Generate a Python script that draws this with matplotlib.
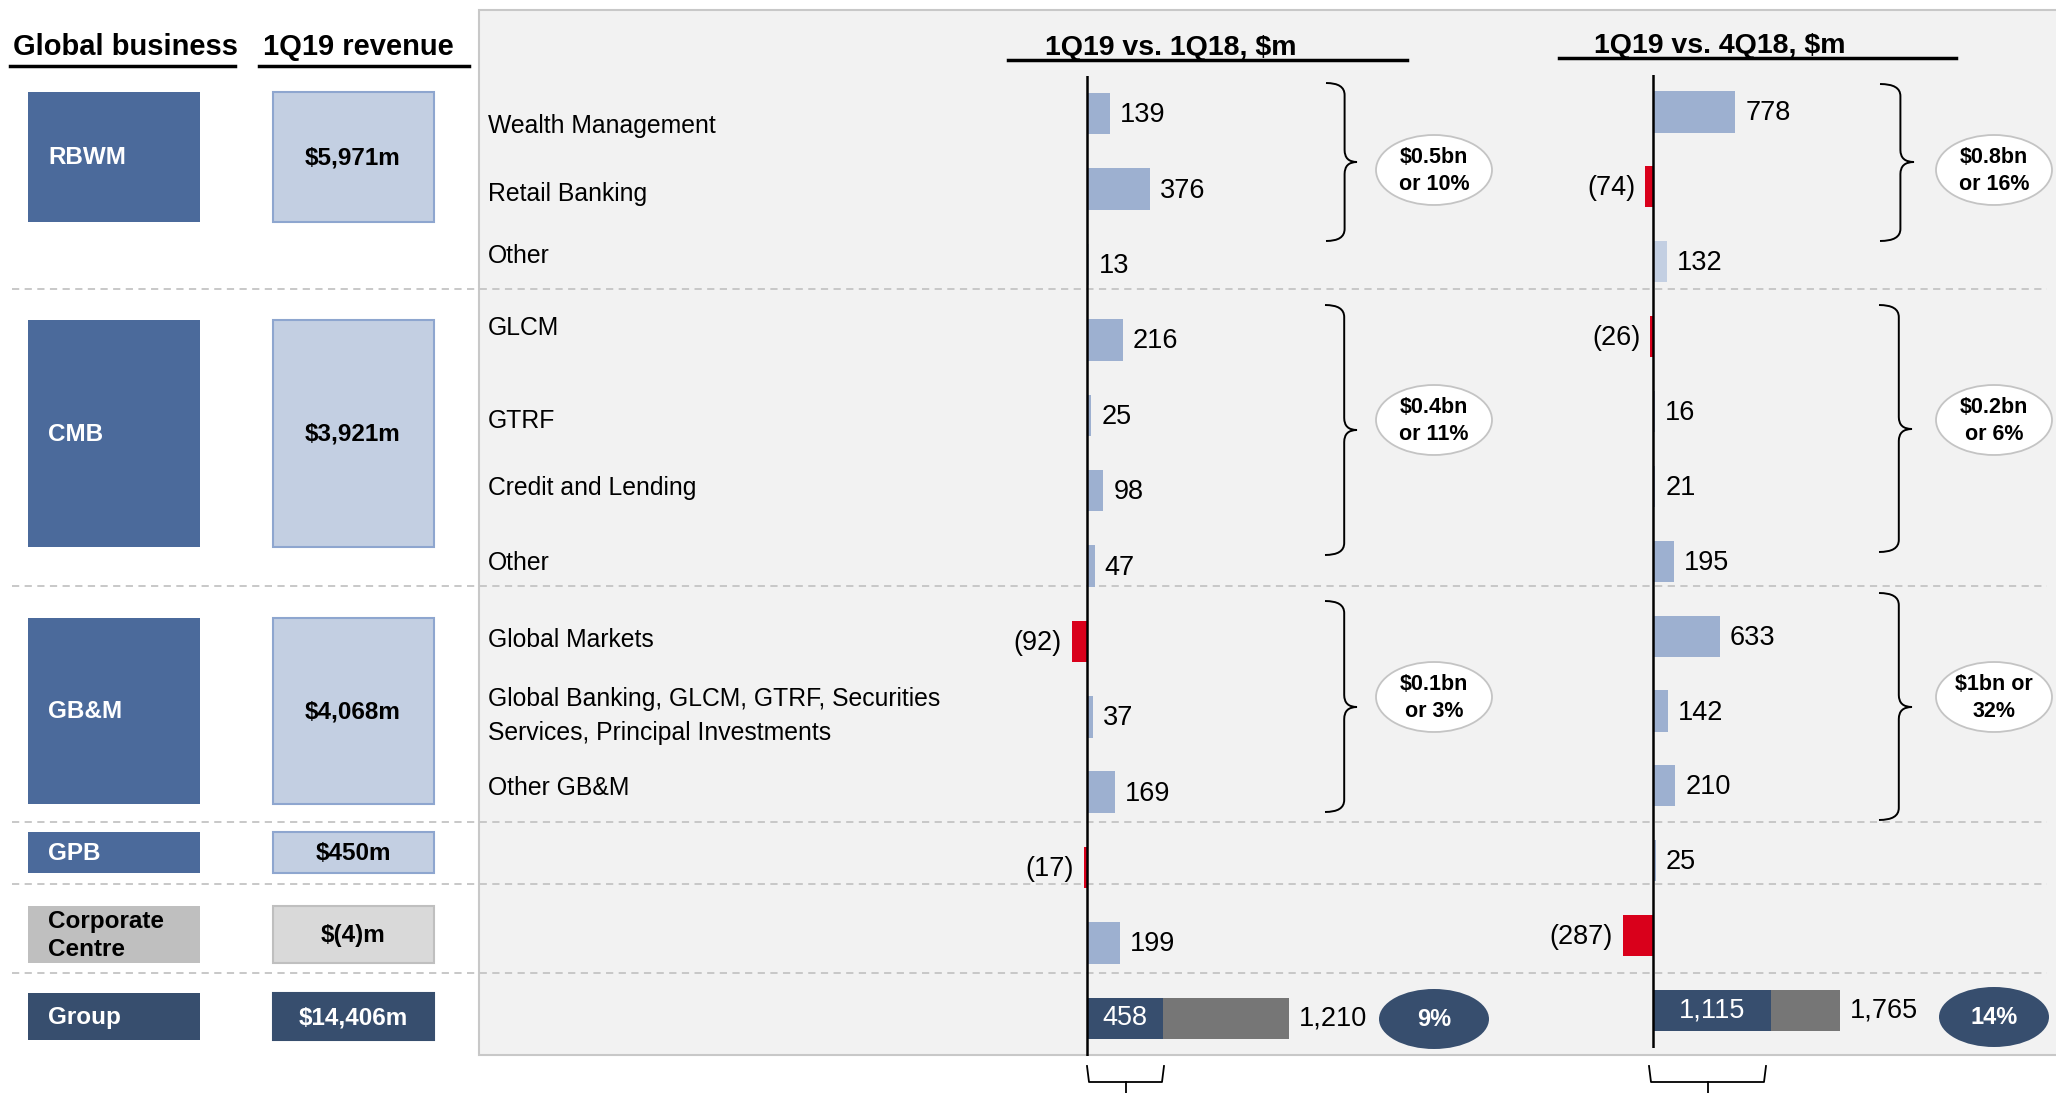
import matplotlib
matplotlib.use("Agg")
import matplotlib.pyplot as plt
from matplotlib.patches import Rectangle, Ellipse, PathPatch
from matplotlib.path import Path

plt.rcParams['font.family'] = ['Liberation Sans', 'DejaVu Sans']

# --- data ---
businesses = ["RBWM", "CMB", "GB&M", "GPB", "Corporate\nCentre", "Group"]
revenue = ["$5,971m", "$3,921m", "$4,068m", "$450m", "$(4)m", "$14,406m"]

row_labels = ["Wealth Management", "Retail Banking", "Other",
              "GLCM", "GTRF", "Credit and Lending", "Other",
              "Global Markets",
              "Global Banking, GLCM, GTRF, Securities\nServices, Principal Investments",
              "Other GB&M"]

vs_1q18 = [139, 376, 13, 216, 25, 98, 47, -92, 37, 169, -17, 199]
vs_4q18 = [778, -74, 132, -26, 16, 21, 195, 633, 142, 210, 25, -287]
group_1q18 = [458, 1210]   # excl. (dark) / total
group_4q18 = [1115, 1765]

group_notes_1q18 = ["$0.5bn\nor 10%", "$0.4bn\nor 11%", "$0.1bn\nor 3%"]
group_notes_4q18 = ["$0.8bn\nor 16%", "$0.2bn\nor 6%", "$1bn or\n32%"]
total_pct = ["9%", "14%"]

# --- styles ---
BLUE = '#4B6A9B'
LIGHT = '#C3CFE2'
BAR = '#9DB0D0'
RED = '#D9001B'
NAVY = '#374E6E'
GREY = '#767676'
bar_colors_pos = [BAR, BAR, LIGHT, BAR, BAR, BAR, BAR, BAR, BAR, BAR, BAR, BAR]

W, H = 2056, 1093
fig = plt.figure(figsize=(W / 100, H / 100), dpi=100)
lay = fig.add_axes([0, 0, 1, 1])
lay.set_xlim(0, W)
lay.set_ylim(H, 0)
lay.axis('off')

# background panel
lay.add_patch(Rectangle((479, 10), 1600, 1045, fc='#F2F2F2', ec='#C8C8C8', lw=1.5))

# headers
lay.text(13, 55, "Global business", fontsize=21, fontweight='bold', va='baseline')
lay.plot([10, 235], [66, 66], color='black', lw=2.5)
lay.text(263, 55, "1Q19 revenue", fontsize=21, fontweight='bold', va='baseline')
lay.plot([259, 469], [66, 66], color='black', lw=2.5)
lay.text(1171, 55, "1Q19 vs. 1Q18, $m", fontsize=20.5, fontweight='bold', va='baseline', ha='center')
lay.plot([1008, 1407], [60, 60], color='black', lw=2.5)
lay.text(1720, 53, "1Q19 vs. 4Q18, $m", fontsize=20.5, fontweight='bold', va='baseline', ha='center')
lay.plot([1559, 1956], [58, 58], color='black', lw=2.5)

# separators
for y in [289, 586, 822, 884, 973]:
    lay.plot([12, 2047], [y, y], color='#C4C4C4', lw=1.3, ls=(0, (4, 3)))

# left boxes
box_y = [(92, 222), (320, 547), (618, 804), (832, 873), (906, 963), (993, 1040)]
box_fc = [BLUE, BLUE, BLUE, BLUE, '#BFBFBF', NAVY]
rev_fc = [LIGHT, LIGHT, LIGHT, LIGHT, '#D9D9D9', NAVY]
rev_ec = ['#8EA6CF', '#8EA6CF', '#8EA6CF', '#8EA6CF', '#BFBFBF', NAVY]
for i, (name, rev) in enumerate(zip(businesses, revenue)):
    y0, y1 = box_y[i]
    lay.add_patch(Rectangle((28, y0), 172, y1 - y0, fc=box_fc[i], ec='none'))
    lay.add_patch(Rectangle((273, y0), 161, y1 - y0, fc=rev_fc[i], ec=rev_ec[i], lw=1.5))
    tc = 'black' if i == 4 else 'white'
    lay.text(48, (y0 + y1) / 2 + 1, name, color=tc, fontsize=17.5, fontweight='bold',
             va='center', ha='left', linespacing=1.25)
    rc = 'white' if i == 5 else 'black'
    lay.text(353, (y0 + y1) / 2 + 1, rev, color=rc, fontsize=17.5, fontweight='bold',
             va='center', ha='center')

# row labels
label_y = [126, 194, 256, 328, 421, 488, 563, 640, 716, 788]
for lab, y in zip(row_labels, label_y):
    lay.text(488, y, lab, fontsize=17.8, va='center', ha='left', linespacing=1.5)


def make_axes(x0, x1, y0, y1, zero, scale):
    ax = fig.add_axes([x0 / W, 1 - y1 / H, (x1 - x0) / W, (y1 - y0) / H])
    ax.set_xlim((x0 - zero) / scale, (x1 - zero) / scale)
    ax.set_ylim(12.5, -0.5)
    ax.patch.set_alpha(0)
    ax.axis('off')
    ax.axvline(0, color='black', lw=1.8, zorder=5)
    return ax


def draw_chart(ax, values, group, scale):
    pad = 10 / scale
    rows = list(range(len(values)))
    colors = [bar_colors_pos[i] if v >= 0 else RED for i, v in enumerate(values)]
    ax.barh(rows, values, height=0.55, color=colors)
    for i, v in enumerate(values):
        y = i + 0.02
        if v >= 0:
            ax.text(v + pad, y, f"{v:,}", fontsize=19.5, va='center', ha='left')
        else:
            ax.text(v - pad, y, f"({-v:,})", fontsize=19.5, va='center', ha='right')
    g = len(values)
    ax.barh(g, group[0], height=0.55, color=NAVY)
    ax.barh(g, group[1] - group[0], left=group[0], height=0.55, color=GREY)
    ax.text(group[0] / 2, g, f"{group[0]:,}", color='white', fontsize=19.5, va='center', ha='center')
    ax.text(group[1] + pad, g, f"{group[1]:,}", fontsize=19.5, va='center', ha='left')


ax1 = make_axes(1000, 1370, 76, 1056, 1087, 0.167)
draw_chart(ax1, vs_1q18, group_1q18, 0.167)
ax2 = make_axes(1560, 1930, 74.5, 1048, 1653, 0.106)
draw_chart(ax2, vs_4q18, group_4q18, 0.106)


def brace(x0, x1, ytop, ybot, ymid, r=12):
    xm = x0 + (x1 - x0) * 0.6
    verts = [(x0, ytop), (xm, ytop), (xm, ytop + r),
             (xm, ymid - r), (xm, ymid), (x1, ymid),
             (xm, ymid), (xm, ymid + r),
             (xm, ybot - r), (xm, ybot), (x0, ybot)]
    codes = [Path.MOVETO, Path.CURVE3, Path.CURVE3,
             Path.LINETO, Path.CURVE3, Path.CURVE3,
             Path.CURVE3, Path.CURVE3,
             Path.LINETO, Path.CURVE3, Path.CURVE3]
    lay.add_patch(PathPatch(Path(verts, codes), fc='none', ec='black', lw=1.4))


brace(1326, 1357, 83, 241, 162)
brace(1880, 1914, 84, 241, 162)
brace(1325, 1357, 305, 555, 430)
brace(1879, 1912, 305, 552, 429)
brace(1325, 1357, 601, 812, 707)
brace(1879, 1912, 593, 820, 707)

# bottom braces under the dark bars
for xa, xb in [(1087, 1164), (1649, 1766)]:
    xc = (xa + xb) / 2
    lay.plot([xa, xa + 2, xb - 2, xb], [1066, 1082, 1082, 1066], color='black', lw=1.3)
    lay.plot([xc, xc], [1082, 1093], color='black', lw=1.3)

# callout ellipses
note_y = [170, 420, 697]
for y, n1, n2 in zip(note_y, group_notes_1q18, group_notes_4q18):
    for xc, txt in [(1434, n1), (1994, n2)]:
        lay.add_patch(Ellipse((xc, y), 116, 70, fc='white', ec='#C4C4C4', lw=1.3))
        lay.text(xc, y + 1, txt, fontsize=15.5, fontweight='bold', ha='center', va='center',
                 linespacing=1.4)
for xc, yc, txt in [(1434, 1019, total_pct[0]), (1994, 1017, total_pct[1])]:
    lay.add_patch(Ellipse((xc, yc), 110, 60, fc=NAVY, ec='none'))
    lay.text(xc, yc, txt, color='white', fontsize=17, fontweight='bold', ha='center', va='center')

fig.savefig("out.png", dpi=100)
